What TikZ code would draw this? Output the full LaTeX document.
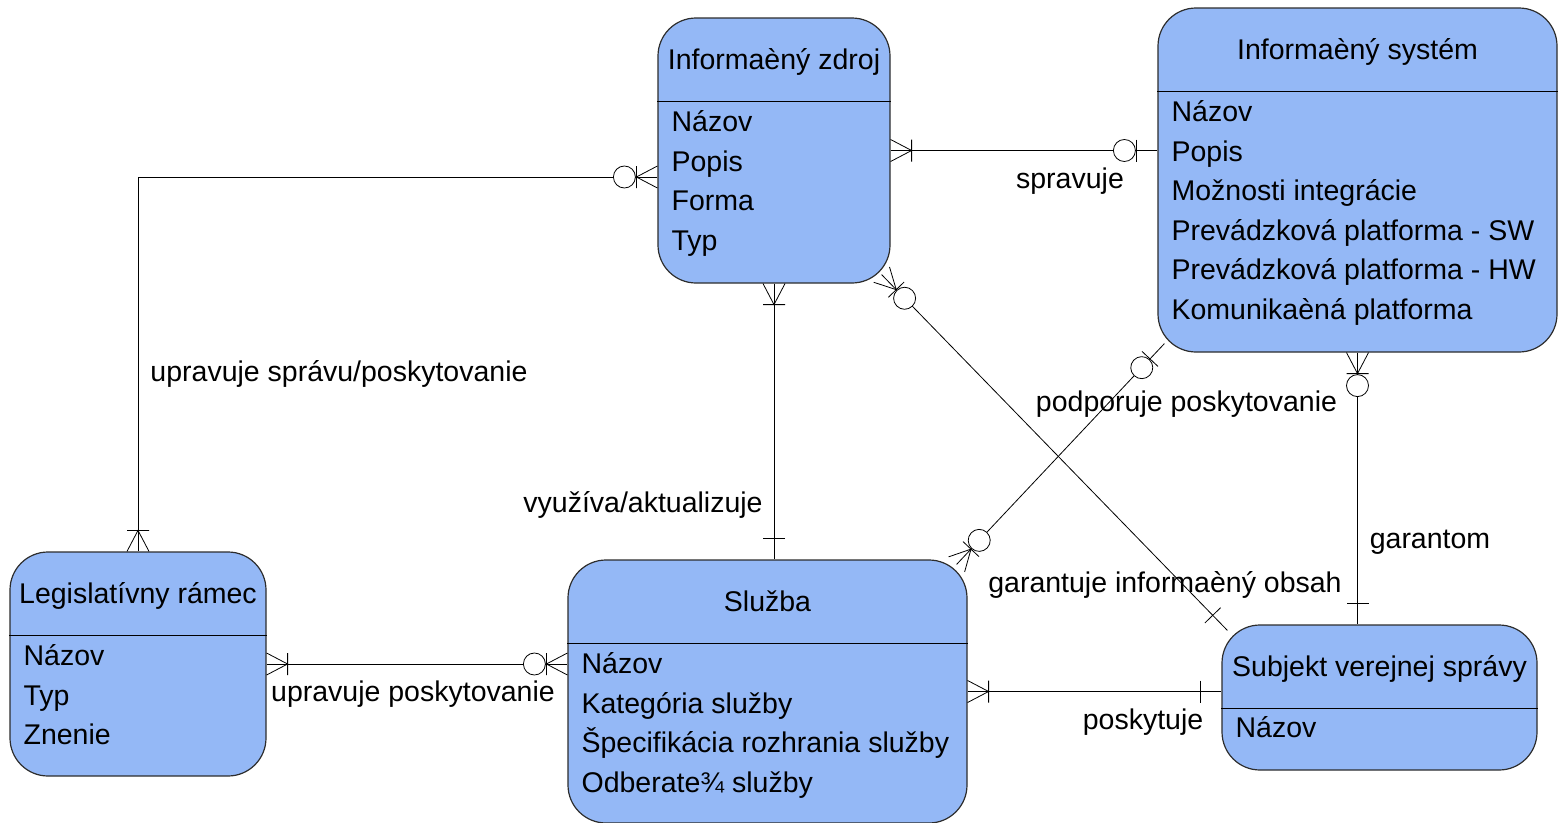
\documentclass[tikz,border=0pt]{standalone}
\usepackage{fontspec}
\setmainfont{Liberation Sans}
\usetikzlibrary{calc,decorations.markings}
\definecolor{entblue}{RGB}{148,184,246}
\definecolor{entline}{RGB}{45,45,45}
\begin{document}
\begin{tikzpicture}[x=1pt,y=-1pt,
  font=\fontsize{28.5}{34}\selectfont,
  ent/.style={draw=entline, fill=entblue, line width=1.2pt, rounded corners=38pt, inner sep=0pt},
  sepl/.style={draw=black, line width=1.1pt},
  ttl/.style={anchor=base, inner sep=0pt},
  attr/.style={anchor=base west, inner sep=0pt},
  lbl/.style={anchor=base, inner sep=0pt},
  conn/.style={draw=black, line width=0.8pt},
  mkl/.style={draw=black, line width=0.8pt},
  mk/.style 2 args={postaction={decorate,decoration={markings,mark=at position #1 with {#2}}}},
  smany/.style={mk={21pt}{\draw[mkl] (-21,-11) -- (0,0) -- (-21,11) (0,-11) -- (0,11);}},
  szmany/.style={mk={21pt}{\draw[mkl] (-21,-11) -- (0,0) -- (-21,11) (0,-11) -- (0,11); \draw[mkl,fill=white] (12,0) circle[radius=11pt];}},
  sone/.style={mk={21pt}{\draw[mkl] (0,-11) -- (0,11);}},
  szone/.style={mk={21pt}{\draw[mkl] (0,-11) -- (0,11); \draw[mkl,fill=white] (12,0) circle[radius=11pt];}},
  emany/.style={mk={-21pt}{\draw[mkl] (21,-11) -- (0,0) -- (21,11) (0,-11) -- (0,11);}},
  ezmany/.style={mk={-21pt}{\draw[mkl] (21,-11) -- (0,0) -- (21,11) (0,-11) -- (0,11); \draw[mkl,fill=white] (-12,0) circle[radius=11pt];}},
  eone/.style={mk={-21pt}{\draw[mkl] (0,-11) -- (0,11);}},
  ezone/.style={mk={-21pt}{\draw[mkl] (0,-11) -- (0,11); \draw[mkl,fill=white] (-12,0) circle[radius=11pt];}},
]
\useasboundingbox (0,0) rectangle (1558,822);

% entities
\node[ent, minimum width=232, minimum height=265] (zdroj) at (774,150.5) {};
\node[ent, minimum width=399, minimum height=344] (sys) at (1357.5,180) {};
\node[ent, minimum width=256, minimum height=224] (leg) at (138,664) {};
\node[ent, minimum width=399, minimum height=263] (sluz) at (767.5,691.5) {};
\node[ent, minimum width=315, minimum height=145] (subj) at (1379.5,697.5) {};

% titles
\node[ttl] (zdroj-t) at ($(zdroj.north)+(0,52)$) {Informaèný zdroj};
\node[ttl] (sys-t) at ($(sys.north)+(0,52)$) {Informaèný systém};
\node[ttl] (leg-t) at ($(leg.north)+(0,52)$) {Legislatívny rámec};
\node[ttl] (sluz-t) at ($(sluz.north)+(0,52)$) {Služba};
\node[ttl] (subj-t) at ($(subj.north)+(0,52)$) {Subjekt verejnej správy};

% separators
\foreach \e in {zdroj,sys,leg,sluz,subj}
  \draw[sepl] ($(\e.north west)+(0,84)$) -- ($(\e.north east)+(0,84)$);

% attributes
\foreach \t [count=\i] in {Názov,Popis,Forma,Typ}
  \node[attr] (zdroj-\i) at ($(zdroj.north west)+(14,{114+39.6*(\i-1)})$) {\t};
\foreach \t [count=\i] in {Názov,Popis,Možnosti integrácie,Prevádzková platforma - SW,Prevádzková platforma - HW,Komunikaèná platforma}
  \node[attr] (sys-\i) at ($(sys.north west)+(14,{114+39.6*(\i-1)})$) {\t};
\foreach \t [count=\i] in {Názov,Typ,Znenie}
  \node[attr] (leg-\i) at ($(leg.north west)+(14,{114+39.6*(\i-1)})$) {\t};
\foreach \t [count=\i] in {Názov,Kategória služby,Špecifikácia rozhrania služby,Odberate¾ služby}
  \node[attr] (sluz-\i) at ($(sluz.north west)+(14,{114+39.6*(\i-1)})$) {\t};
\foreach \t [count=\i] in {Názov}
  \node[attr] (subj-\i) at ($(subj.north west)+(14,{113+39.6*(\i-1)})$) {\t};

% connectors
\draw[conn, smany, ezone] (zdroj.east) -- (zdroj.east -| sys.west);
\draw[conn, szmany, emany] ($(zdroj.west)+(0,26.5)$) -| (leg.north);
\draw[conn, smany, eone] (zdroj.south) -- (zdroj.south |- sluz.north);
\draw[conn, smany, ezmany] (leg.east) -- (leg.east -| sluz.west);
\draw[conn, smany, eone] (sluz.east) -- (sluz.east -| subj.west);
\draw[conn, szmany, eone] (sys.south) -- (sys.south |- subj.north);
\draw[conn, szmany, ezone] ($(sluz.north east)+(-11,5)$) -- ($(sys.south west)+(7,-9)$);
\draw[conn, szmany, eone] ($(zdroj.south east)+(-9,-9)$) -- ($(subj.north west)+(6,6)$);

% labels
\node[lbl] (l-spravuje) at (1070,188) {spravuje};
\node[lbl] (l-upravsp) at (339,381) {upravuje správu/poskytovanie};
\node[lbl] (l-vyuziva) at (643,512) {využíva/aktualizuje};
\node[lbl] (l-upravposk) at (413,701) {upravuje poskytovanie};
\node[lbl] (l-poskytuje) at (1143,729) {poskytuje};
\node[lbl] (l-podporuje) at (1186.5,411) {podporuje poskytovanie};
\node[lbl] (l-garantuje) at (1165,592) {garantuje informaèný obsah};
\node[lbl] (l-garantom) at (1430,548) {garantom};
\end{tikzpicture}
\end{document}
